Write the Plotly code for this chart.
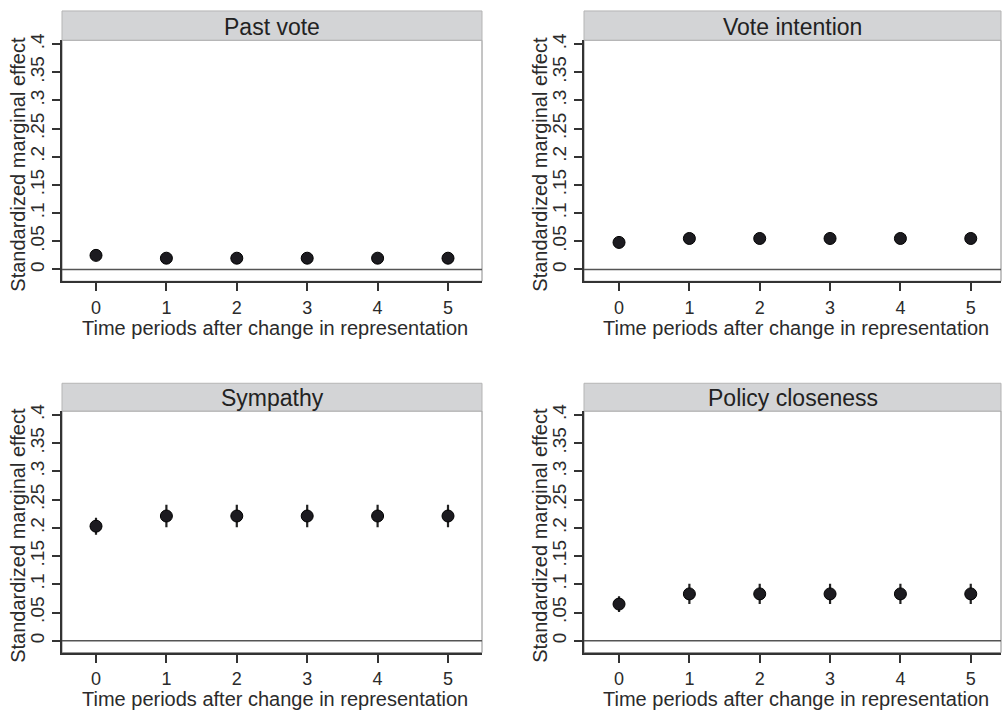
import plotly.graph_objects as go

# ---- data ----
periods = [0, 1, 2, 3, 4, 5]
panel_titles = ["Past vote", "Vote intention", "Sympathy", "Policy closeness"]
past_vote = [0.025, 0.020, 0.020, 0.020, 0.020, 0.020]
past_vote_err = [0.004, 0.004, 0.004, 0.004, 0.004, 0.004]
vote_intention = [0.048, 0.055, 0.055, 0.055, 0.055, 0.055]
vote_intention_err = [0.006, 0.008, 0.008, 0.008, 0.008, 0.008]
sympathy = [0.203, 0.221, 0.221, 0.221, 0.221, 0.221]
sympathy_err = [0.015, 0.020, 0.020, 0.020, 0.020, 0.020]
policy_closeness = [0.065, 0.083, 0.083, 0.083, 0.083, 0.083]
policy_closeness_err = [0.014, 0.018, 0.018, 0.018, 0.018, 0.018]
y_tickvals = [0, 0.05, 0.1, 0.15, 0.2, 0.25, 0.3, 0.35, 0.4]
y_ticktext = ["0", ".05", ".1", ".15", ".2", ".25", ".3", ".35", ".4"]
x_title = "Time periods after change in representation"
y_title = "Standardized marginal effect"

series = [past_vote, vote_intention, sympathy, policy_closeness]
errors = [past_vote_err, vote_intention_err, sympathy_err, policy_closeness_err]

W, H = 1006, 715
FONT = "Liberation Sans, Arial, Helvetica, sans-serif"
TXT = "#2b2b2b"

# panel geometry in pixels: (x0, x1, y0_top, y1_bottom, strip_top)
panels = [
    (62, 482, 33.5, 277, 4),
    (584, 1001, 33.5, 277, 4),
    (62, 482, 408, 652, 380),
    (584, 1001, 408, 652, 380),
]
xranges = [[-0.483, 5.483], [-0.498, 5.43], [-0.483, 5.483], [-0.498, 5.43]]
yrange = [-0.021, 0.407]

def px_x(p):
    return p / W

def px_y(p):
    return 1 - p / H

fig = go.Figure()
layout = dict(
    width=W, height=H,
    margin=dict(l=0, r=0, t=0, b=0),
    paper_bgcolor="white", plot_bgcolor="white",
    showlegend=False,
    font=dict(family=FONT, size=20, color=TXT),
)
shapes = []
annotations = []

for i, (x0, x1, yt, yb, st) in enumerate(panels):
    n = "" if i == 0 else str(i + 1)
    xa, ya = "x" + n, "y" + n
    fig.add_trace(go.Scatter(
        x=periods, y=series[i], mode="markers",
        xaxis=xa, yaxis=ya,
        marker=dict(size=12, color="#1c1b20", line=dict(color="#000000", width=1)),
        error_y=dict(type="data", array=errors[i], visible=True,
                     thickness=2.2, width=0, color="#222222"),
    ))
    layout["xaxis" + n] = dict(
        domain=[px_x(x0), px_x(x1)], anchor=ya, range=xranges[i],
        tickvals=periods, ticktext=[str(p) for p in periods],
        ticks="outside", ticklen=8, tickwidth=1.5, tickcolor="#333",
        ticklabelstandoff=1,
        showline=True, linecolor="#333", linewidth=2,
        showgrid=False, zeroline=False, fixedrange=True,
        tickfont=dict(size=18, color=TXT, family=FONT),
    )
    layout["yaxis" + n] = dict(
        domain=[px_y(yb), px_y(yt)], anchor=xa, range=yrange,
        tickvals=y_tickvals, ticktext=y_ticktext, tickangle=-90,
        ticks="outside", ticklen=8, tickwidth=1.5, tickcolor="#333",
        showline=True, linecolor="#333", linewidth=2,
        showgrid=False, zeroline=False, fixedrange=True,
        tickfont=dict(size=19, color=TXT, family=FONT),
    )
    # panel border (thin)
    shapes.append(dict(type="rect", xref="paper", yref="paper",
                       x0=px_x(x0), x1=px_x(x1), y0=px_y(yb), y1=px_y(yt),
                       line=dict(color="#8a8a8a", width=1), layer="below"))
    # zero reference line
    shapes.append(dict(type="line", xref=xa + " domain", yref=ya,
                       x0=0, x1=1, y0=0, y1=0,
                       line=dict(color="#555555", width=1.6), layer="below"))
    # title strip
    shapes.append(dict(type="rect", xref="paper", yref="paper",
                       x0=px_x(x0), x1=px_x(x1), y0=px_y(yt), y1=px_y(st),
                       fillcolor="#d3d4d6", line=dict(color="#b5b5b5", width=1)))
    annotations.append(dict(text=panel_titles[i], xref="paper", yref="paper",
                            x=px_x((x0 + x1) / 2), y=px_y((yt + st) / 2 + 1),
                            xanchor="center", yanchor="middle", showarrow=False,
                            font=dict(size=23, color="#222", family=FONT)))
    # axis titles
    annotations.append(dict(text=x_title, xref="paper", yref="paper",
                            x=px_x((x0 + x1) / 2 + 3), y=px_y(yb + 47),
                            xanchor="center", yanchor="middle", showarrow=False,
                            font=dict(size=20, color=TXT, family=FONT)))
    annotations.append(dict(text=y_title, xref="paper", yref="paper",
                            x=px_x(x0 - 44), y=px_y((yt + yb) / 2 + 4),
                            xanchor="center", yanchor="middle", showarrow=False,
                            textangle=-90,
                            font=dict(size=20, color=TXT, family=FONT)))

layout["shapes"] = shapes
layout["annotations"] = annotations
fig.update_layout(**layout)
fig.write_html("out.html", config={"displayModeBar": False},
               post_script="document.body.style.margin='0px';document.body.style.overflow='hidden';")
